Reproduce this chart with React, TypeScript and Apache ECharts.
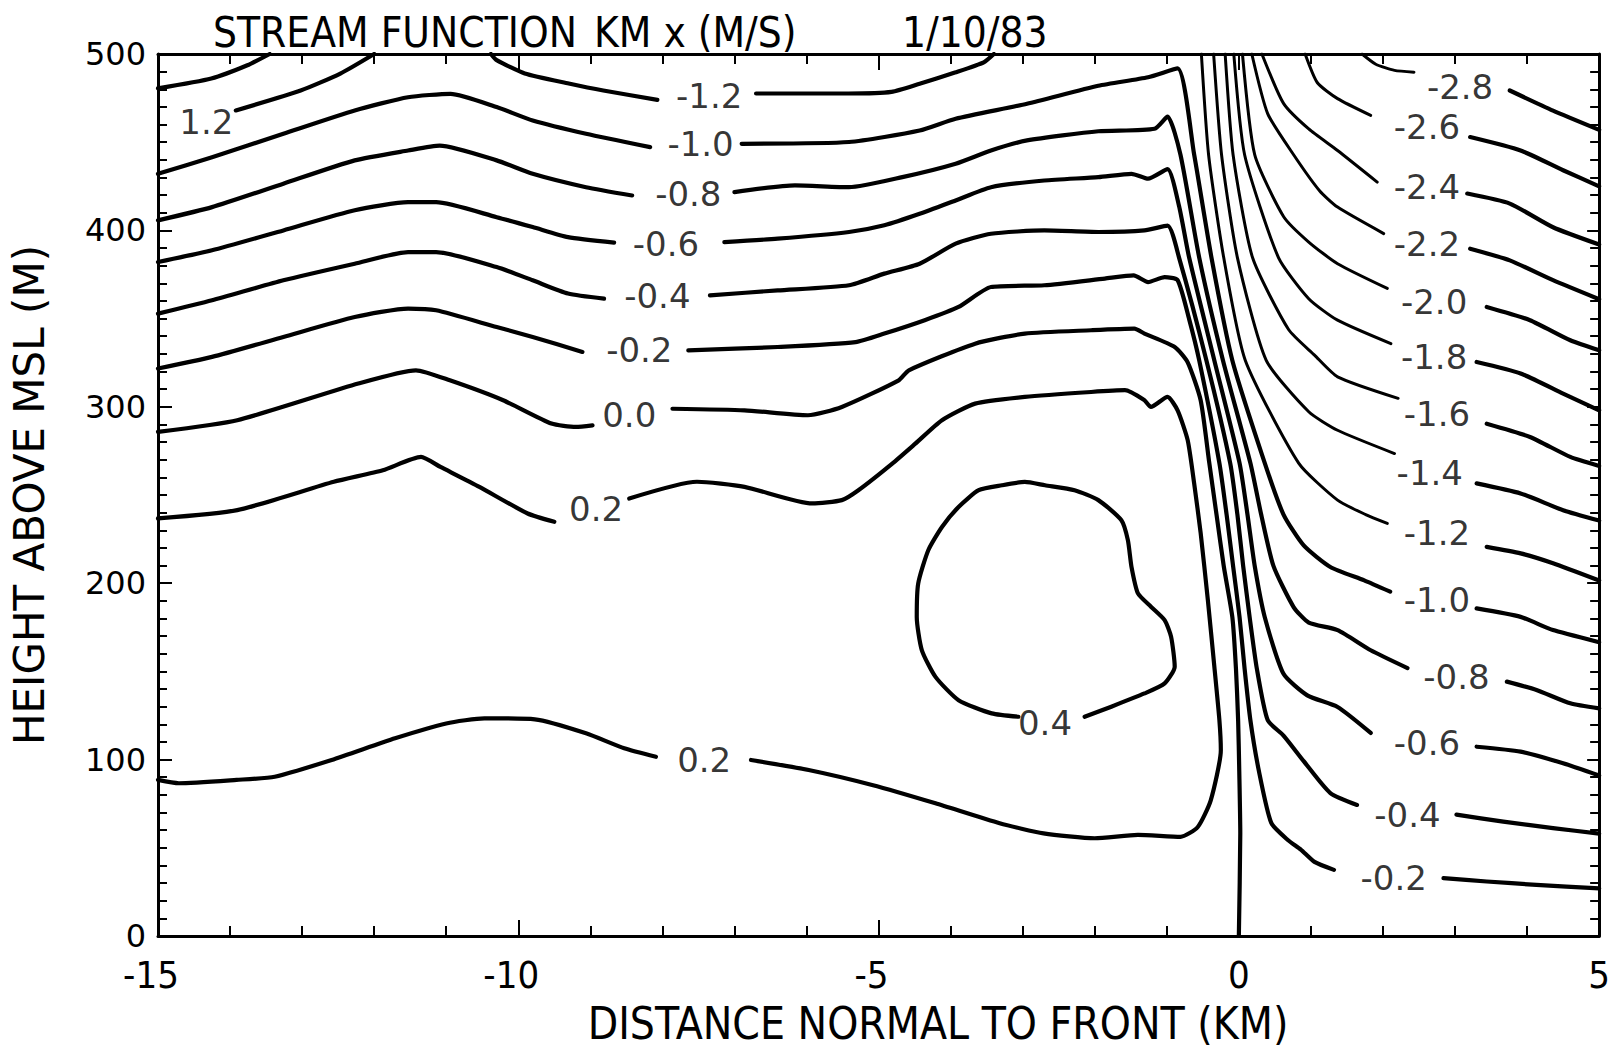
import React, { useEffect, useRef } from "react";
import * as echarts from "echarts";

type P = [number, number];
type L = [number, number, string];

// ---------- axes ----------
const xRange: P = [-15, 5];
const yRange: P = [0, 500];
const xStep = 5;
const yStep = 100;

// ---------- contour lines (x: km, y: m); each contour = segments broken at its labels ----------
const segA: P[][] = [[[-15, 480.5], [-14.26, 486.1], [-13.76, 493.6], [-13.45, 500]]];
const labA: L[] = [];

const segB: P[][] = [[[-13.92, 468], [-13.02, 479.3], [-12.47, 488.9], [-12.0, 500]]];
const labB: L[] = [[-14.33, 461.5, "1.2"]];

const segM12U: P[][] = [
  [[-10.38, 500], [-10.3, 496.5], [-9.91, 489], [-9.3, 483.3], [-8.82, 479.3], [-8.07, 474]],
  [[-6.7, 477.6], [-5.42, 477.6], [-4.82, 478.5], [-4.43, 483.1], [-3.94, 489.5], [-3.54, 495.3], [-3.4, 500]],
];
const labM12U: L[] = [[-7.35, 476, "-1.2"]];

const segM10: P[][] = [
  [[-15, 432.1], [-14.25, 441.5], [-13.26, 454.8], [-12.27, 468], [-11.53, 475.5], [-10.94, 477.4], [-10.3, 469.9], [-9.8, 462.3], [-9.06, 454.8], [-8.17, 447.2]],
  [[-6.9, 449.1], [-5.41, 450.1], [-4.43, 456.6], [-3.93, 463.3], [-2.94, 471.8], [-1.95, 482], [-1.26, 486.8], [-0.85, 491.8], [-0.62, 442.9], [-0.38, 384.6], [-0.09, 326.3], [0.36, 268.1], [0.62, 238.9], [0.9, 221.4], [1.27, 209.2], [1.74, 201.6], [2.1, 195.2]],
  [[3.3, 185.7], [3.91, 180.9], [4.36, 173.4], [5, 166.5]],
];
const labM10: L[] = [[-7.47, 448.7, "-1.0"], [2.75, 190.6, "-1.0"]];

const segM08: P[][] = [
  [[-15, 405.7], [-14.25, 413.2], [-13.26, 426.5], [-12.27, 439.7], [-11.53, 445.3], [-11.09, 448.1], [-10.3, 439.7], [-9.8, 432.1], [-9.06, 424.5], [-8.42, 419.8]],
  [[-7.0, 421.7], [-6.16, 425.5], [-5.41, 424.5], [-4.67, 430.2], [-3.93, 437.8], [-3.44, 445.3], [-2.94, 451], [-1.95, 456.2], [-1.17, 457.6], [-0.99, 464.5], [-0.81, 442.9], [-0.55, 384.6], [-0.22, 326.3], [0.16, 268.1], [0.31, 238.9], [0.48, 209.8], [0.76, 186.5], [0.97, 177.7], [1.37, 173.4], [1.83, 162], [2.34, 151.9]],
  [[3.72, 144.2], [4.13, 139.5], [4.6, 131.9], [5, 129]],
];
const labM08: L[] = [[-7.64, 420.7, "-0.8"], [3.02, 146.9, "-0.8"]];

const segM06: P[][] = [
  [[-15, 382.1], [-14.25, 388.7], [-13.26, 400], [-12.27, 411.4], [-11.53, 416], [-11.14, 416], [-10.3, 407.5], [-9.8, 401.9], [-9.31, 396.2], [-8.67, 393.1]],
  [[-7.14, 393.4], [-6.4, 395.3], [-5.41, 399.1], [-4.92, 402.9], [-4.43, 409.4], [-3.93, 417], [-3.44, 424.5], [-2.7, 428.3], [-1.95, 430.2], [-1.49, 432.1], [-1.26, 429.3], [-0.99, 434.7], [-0.83, 413.8], [-0.69, 384.6], [-0.34, 326.3], [0.01, 268.1], [0.12, 238.9], [0.22, 209.8], [0.36, 180.7], [0.62, 148.6], [0.95, 136.4], [1.37, 129.8], [1.83, 115.1]],
  [[3.3, 107.3], [3.91, 104.5], [4.5, 97.9], [5, 91]],
];
const labM06: L[] = [[-7.95, 392.2, "-0.6"], [2.61, 109.6, "-0.6"]];

const segM04: P[][] = [
  [[-15, 352.8], [-14.25, 360.4], [-13.26, 371.7], [-12.27, 381.1], [-11.53, 387.7], [-11.14, 387.7], [-10.3, 379.2], [-9.8, 371.7], [-9.31, 364.2], [-8.81, 361.3]],
  [[-7.34, 363.2], [-6.4, 366], [-5.41, 368.9], [-4.92, 375.5], [-4.43, 381.1], [-3.93, 392.5], [-3.44, 398.1], [-2.7, 400], [-1.95, 399.1], [-1.31, 400], [-0.99, 402.7], [-0.83, 384.6], [-0.45, 326.3], [-0.12, 268.1], [-0.02, 238.9], [0.06, 209.8], [0.15, 180.7], [0.25, 151.5], [0.4, 122.4], [0.62, 113.6], [0.9, 99.1], [1.27, 81], [1.64, 74.3]],
  [[3.02, 68.8], [3.67, 64.8], [4.36, 61.2], [5, 58]],
];
const labM04: L[] = [[-8.07, 363, "-0.4"], [2.34, 68.8, "-0.4"]];

const segM02: P[][] = [
  [[-15, 321.7], [-14.25, 328.3], [-13.26, 339.6], [-12.27, 350.9], [-11.53, 355.7], [-11.14, 354.7], [-10.3, 345.2], [-9.8, 339.6], [-9.11, 331.1]],
  [[-7.64, 332], [-6.4, 333.9], [-5.32, 336.7], [-4.92, 341.5], [-4.36, 349.1], [-3.89, 356.6], [-3.44, 367.9], [-2.7, 368.9], [-1.86, 372.7], [-1.46, 374.5], [-1.26, 370.7], [-1.03, 373.5], [-0.85, 371.8], [-0.69, 349.7], [-0.55, 326.3], [-0.27, 268.1], [-0.17, 238.9], [-0.08, 209.8], [0.01, 180.7], [0.08, 151.5], [0.16, 122.4], [0.28, 93.2], [0.45, 64.1], [0.68, 54.4], [0.86, 49], [1.05, 42], [1.32, 37.5]],
  [[2.84, 32.8], [3.44, 30.9], [4.13, 29], [5, 27]],
];
const labM02: L[] = [[-8.32, 332.2, "-0.2"], [2.15, 32.8, "-0.2"]];

const segZ00: P[][] = [
  [[-15, 285.8], [-13.9, 292.4], [-12.22, 313.2], [-11.42, 320.7], [-10.95, 315], [-10.21, 303.7], [-9.54, 290.5], [-9.2, 288.6], [-8.97, 289.5]],
  [[-7.86, 298.9], [-6.86, 298], [-5.98, 295.2], [-5.51, 299.9], [-4.72, 315], [-4.58, 320.7], [-3.66, 335.8], [-2.97, 341.5], [-2.05, 343.4], [-1.45, 344.3], [-1.31, 341.5], [-0.89, 333.9], [-0.71, 325.2], [-0.53, 303.7], [-0.41, 268.1], [-0.31, 238.9], [-0.21, 209.8], [-0.09, 180.7], [-0.04, 151.5], [-0.01, 122.4], [0.006, 93.2], [0.02, 58.3], [0, 0]],
];
const labZ00: L[] = [[-8.46, 295.5, "0.0"]];

const segP02: P[][] = [
  [[-15, 236.7], [-13.9, 241.4], [-12.56, 257.5], [-11.88, 264], [-11.35, 271.6], [-11.08, 265.9], [-10.54, 254.6], [-9.87, 239.5], [-9.5, 234.8]],
  [[-8.46, 248], [-7.52, 257.5], [-6.86, 254.6], [-5.92, 245.2], [-5.51, 247.1], [-5.28, 252.7], [-4.81, 267.8], [-4.49, 279.1], [-4.12, 292.4], [-3.66, 301.8], [-2.97, 305.6], [-2.05, 308.4], [-1.58, 309.4], [-1.31, 303.7], [-1.22, 299.9], [-0.99, 305.6], [-0.85, 298], [-0.71, 281.1], [-0.62, 256.5], [-0.53, 228.4], [-0.43, 190.4], [-0.34, 152.7], [-0.27, 122.4], [-0.25, 105.5], [-0.39, 76.9], [-0.57, 61.8], [-0.81, 56.2], [-1.4, 57.3], [-2.0, 55.4], [-2.71, 58.2], [-3.32, 63.9], [-4.21, 75.2], [-5.09, 85.6], [-5.97, 94.1], [-6.77, 99.8]],
  [[-8.09, 101.6], [-8.53, 106.4], [-9.06, 114.9], [-9.77, 122.8], [-10.47, 123.4], [-11.0, 120.5], [-11.71, 112.1], [-12.59, 99.8], [-13.38, 90.3], [-13.91, 88.5], [-14.71, 86.6], [-15, 88.5]],
];
const labP02: L[] = [[-8.92, 241.8, "0.2"], [-7.42, 99.8, "0.2"]];

const segP04: P[][] = [
  [[-3.06, 124.3], [-3.43, 126.2], [-3.89, 133.7], [-4.21, 146.9], [-4.4, 162.1], [-4.47, 180.9], [-4.45, 199.8], [-4.31, 218.7], [-4.12, 231.9], [-3.89, 243.2], [-3.61, 252.7], [-3.29, 255.5], [-2.97, 257.4], [-2.69, 255.5], [-2.28, 252.7], [-1.95, 247.1], [-1.63, 235.7], [-1.54, 224.4], [-1.49, 209.3], [-1.4, 194.2], [-1.22, 186.7], [-1.03, 179.1], [-0.94, 169.6], [-0.89, 152.7], [-1.03, 143.2], [-1.31, 137.5], [-1.77, 130], [-2.14, 124.3]],
];
const labP04: L[] = [[-2.69, 120.6, "0.4"]];

const segM12R: P[][] = [
  [[-0.52, 500], [-0.42, 442.9], [-0.21, 384.6], [0.09, 326.3], [0.83, 268.1], [1.37, 247.1], [1.76, 238.9], [2.06, 233.9]],
  [[3.44, 220.6], [3.91, 216.9], [4.36, 211.3], [5, 201.5]],
];
const labM12R: L[] = [[2.75, 228.4, "-1.2"]];

const segM14: P[][] = [
  [[-0.35, 500], [-0.24, 442.9], [-0.02, 384.6], [0.38, 326.3], [0.97, 297.2], [1.37, 286.7], [2.16, 273.5]],
  [[3.3, 256.6], [3.91, 250.9], [4.5, 241.4], [5, 235.5]],
];
const labM14: L[] = [[2.65, 262.2, "-1.4"]];

const segM16: P[][] = [
  [[-0.19, 500], [-0.08, 442.9], [0.19, 384.6], [0.69, 343.8], [1.05, 329.3], [1.37, 317], [2.21, 304.8]],
  [[3.44, 290.4], [4.04, 282.9], [4.6, 271.6], [5, 266.5]],
];
const labM16: L[] = [[2.75, 296.2, "-1.6"]];

const segM18: P[][] = [
  [[-0.07, 500], [0.08, 442.9], [0.55, 384.6], [0.97, 361.3], [1.37, 349.1], [2.11, 335.8]],
  [[3.3, 325.4], [3.91, 318.9], [4.5, 307.5], [5, 298]],
];
const labM18: L[] = [[2.71, 328.3, "-1.8"]];

const segM20: P[][] = [
  [[0.05, 500], [0.22, 442.9], [0.62, 407.9], [0.97, 393.4], [1.37, 381.1], [2.06, 367.1]],
  [[3.44, 356.6], [4.04, 349.1], [4.6, 337.7], [5, 332]],
];
const labM20: L[] = [[2.71, 359.4, "-2.0"]];

const segM22: P[][] = [
  [[0.18, 500], [0.4, 466.2], [0.76, 442.9], [1.12, 422.5], [1.37, 413.2], [2.01, 398.2]],
  [[3.21, 389.6], [3.76, 383], [4.36, 371.8], [5, 361]],
];
const labM22: L[] = [[2.61, 392.5, "-2.2"]];

const segM24: P[][] = [
  [[0.32, 500], [0.62, 472], [0.97, 457.5], [1.37, 445.3], [1.92, 427.4]],
  [[3.17, 420.9], [3.76, 415.2], [4.36, 401.8], [5, 392]],
];
const labM24: L[] = [[2.61, 424.5, "-2.4"]];

const segM26: P[][] = [
  [[0.92, 500], [1.09, 483.7], [1.37, 474.7], [1.83, 465.2]],
  [[3.21, 452.9], [3.91, 445.3], [4.5, 434.1], [5, 425]],
];
const labM26: L[] = [[2.61, 458.6, "-2.6"]];

const segM28: P[][] = [
  [[1.71, 500], [1.9, 494.2], [2.16, 490.7], [2.43, 489.7]],
  [[3.76, 479.3], [4.36, 467.9], [5, 457]],
];
const labM28: L[] = [[3.07, 481.4, "-2.8"]];

// ---------- texts ----------
const titleParts: [string, number][] = [["STREAM FUNCTION", 213], ["KM x (M/S)", 594], ["1/10/83", 902]];
const xName = "DISTANCE NORMAL TO FRONT (KM)";
const yName = "HEIGHT ABOVE MSL (M)";

const contours = [
  { segs: segA, labels: labA },
  { segs: segB, labels: labB },
  { segs: segM12U, labels: labM12U },
  { segs: segM10, labels: labM10 },
  { segs: segM08, labels: labM08 },
  { segs: segM06, labels: labM06 },
  { segs: segM04, labels: labM04 },
  { segs: segM02, labels: labM02 },
  { segs: segZ00, labels: labZ00 },
  { segs: segP02, labels: labP02 },
  { segs: segP04, labels: labP04 },
  { segs: segM12R, labels: labM12R, thin: true },
  { segs: segM14, labels: labM14, thin: true },
  { segs: segM16, labels: labM16, thin: true },
  { segs: segM18, labels: labM18, thin: true },
  { segs: segM20, labels: labM20, thin: true },
  { segs: segM22, labels: labM22, thin: true },
  { segs: segM24, labels: labM24, thin: true },
  { segs: segM26, labels: labM26, thin: true },
  { segs: segM28, labels: labM28, thin: true },
];

const COND = '"DejaVu Sans Condensed", "Liberation Sans Narrow", "DejaVu Sans", sans-serif';
const SANS = '"DejaVu Sans", sans-serif';

export default function App() {
  const ref = useRef<HTMLDivElement>(null);
  useEffect(() => {
    if (!ref.current) return;
    const chart = echarts.init(ref.current, null, { renderer: "svg" });

    const lineSeries: any[] = [];
    contours.forEach((c: any) => {
      c.segs.forEach((s: P[], i: number) => {
        lineSeries.push({
          type: "line",
          data: s,
          showSymbol: false,
          symbol: "none",
          silent: true,
          smooth: 0.2,
          clip: true,
          lineStyle: { color: "#000", width: c.thin && i === 0 ? 3 : 4.2, cap: "round", join: "round" },
          z: 3,
        });
      });
    });
    const allLabels: L[] = contours.flatMap((c) => c.labels);
    const labelSeries = {
      type: "scatter",
      symbolSize: 0,
      silent: true,
      data: allLabels.map(([x, y, t]) => ({ value: [x, y], name: t })),
      label: {
        show: true,
        position: "inside",
        formatter: "{b}",
        color: "#000",
        fontFamily: SANS,
        fontSize: 34,
      },
      z: 5,
    };

    const tickCommon = {
      axisLine: { show: true, onZero: false, lineStyle: { color: "#000", width: 3 } },
      axisTick: { show: true, inside: true, length: 16, lineStyle: { color: "#000", width: 2 } },
      splitLine: { show: false },
      minorSplitLine: { show: false },
    };

    chart.setOption({
      animation: false,
      backgroundColor: "#fff",
      grid: { left: 156, right: 11, top: 54, bottom: 111, containLabel: false },
      xAxis: [
        {
          type: "value",
          min: xRange[0],
          max: xRange[1],
          interval: xStep,
          position: "bottom",
          ...tickCommon,
          minorTick: { show: true, splitNumber: 5, length: 10, lineStyle: { color: "#000", width: 2 } },
          axisLabel: {
            margin: 20,
            color: "#000",
            fontFamily: COND,
            fontSize: 38,
            formatter: (v: number) => (v < 0 ? `{n|${v}}` : `{p|${v}}`),
            rich: {
              n: { fontFamily: COND, fontSize: 38, color: "#000", padding: [0, 14, 0, 0] },
              p: { fontFamily: COND, fontSize: 38, color: "#000" },
            },
          },
        },
        {
          type: "value",
          min: xRange[0],
          max: xRange[1],
          interval: xStep,
          position: "top",
          ...tickCommon,
          minorTick: { show: true, splitNumber: 5, length: 10, lineStyle: { color: "#000", width: 2 } },
          axisLabel: { show: false },
        },
      ],
      yAxis: [
        {
          type: "value",
          min: yRange[0],
          max: yRange[1],
          interval: yStep,
          position: "left",
          ...tickCommon,
          axisTick: { show: true, inside: true, length: 14, lineStyle: { color: "#000", width: 2 } },
          minorTick: { show: true, splitNumber: 10, length: 9, lineStyle: { color: "#000", width: 2 } },
          axisLabel: { margin: 12, color: "#000", fontFamily: SANS, fontSize: 32 },
          name: yName,
          nameLocation: "middle",
          nameRotate: 90,
          nameGap: 108,
          nameTextStyle: { color: "#000", fontFamily: SANS, fontSize: 42 },
        },
        {
          type: "value",
          min: yRange[0],
          max: yRange[1],
          interval: yStep,
          position: "right",
          ...tickCommon,
          axisTick: { show: true, inside: true, length: 12, lineStyle: { color: "#000", width: 2 } },
          minorTick: { show: true, splitNumber: 10, length: 9, lineStyle: { color: "#000", width: 2 } },
          axisLabel: { show: false },
        },
      ],
      graphic: [
        ...titleParts.map(([t, x]) => ({
          type: "text",
          x,
          y: 32,
          style: { text: t, font: `42px ${COND}`, fill: "#000", textAlign: "left", textVerticalAlign: "middle" },
        })),
        {
          type: "text",
          x: 938,
          y: 1045,
          style: { text: xName, font: `44px ${COND}`, fill: "#000", textAlign: "center", textVerticalAlign: "bottom" },
        },
      ],
      series: [...lineSeries, labelSeries],
    });
    return () => chart.dispose();
  }, []);
  return <div ref={ref} style={{ position: "absolute", left: 0, top: 0, width: 1613, height: 1047 }} />;
}
